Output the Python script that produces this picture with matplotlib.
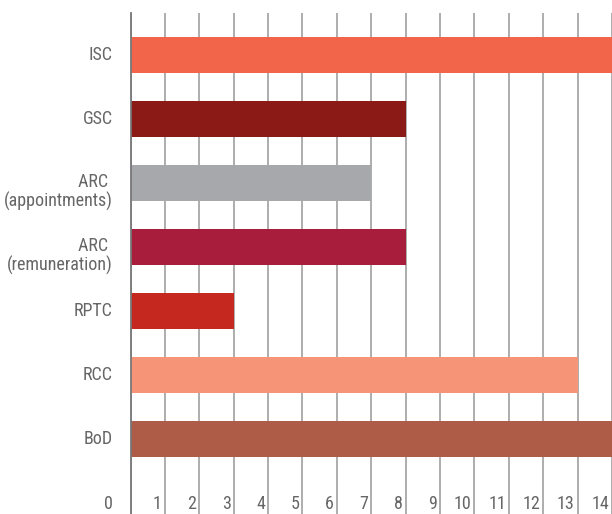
import matplotlib
matplotlib.use("Agg")
import matplotlib.pyplot as plt
from matplotlib import font_manager

# Committee meeting counts
committees = ["ISC", "GSC", "ARC \n(appointments)", "ARC \n(remuneration)", "RPTC", "RCC", "BoD"]
meetings = [14, 8, 7, 8, 3, 13, 14]
colors = ["#F2654A", "#8B1A17", "#A7A8AB", "#A81C3C", "#C4281F", "#F69478", "#AE5B48"]
x_ticks = list(range(15))

# pick a condensed face close to the original's narrow grotesque
names = {f.name for f in font_manager.fontManager.ttflist}
family = "DejaVu Sans"
for cand in ["Roboto Condensed", "Liberation Sans Narrow", "Archivo Narrow", "Barlow Semi Condensed"]:
    if cand in names:
        family = cand
        break
plt.rcParams["font.family"] = [family, "DejaVu Sans"]

text_color = "#666666"
fsize = 13

fig = plt.figure(figsize=(6.12, 5.14), dpi=100)
ax = fig.add_axes([130.5 / 612, 0.0, 1 - 130.5 / 612, (514 - 13) / 514])

ypos = list(range(len(committees)))
ax.barh(ypos, meetings, height=0.55, color=colors, zorder=2)

ax.set_xlim(0, 14)
ax.set_ylim(7.17, -0.656)

ax.set_xticks(x_ticks)
ax.set_xticklabels([])
ax.set_yticks([])
ax.tick_params(axis="x", length=0)
ax.grid(axis="x", color="#a0a0a0", linewidth=1.2, zorder=0)
ax.set_axisbelow(True)

for side in ["top", "right", "bottom"]:
    ax.spines[side].set_visible(False)
ax.spines["left"].set_color("#777777")
ax.spines["left"].set_linewidth(1.3)
ax.spines["left"].set_zorder(3)

# category names, right-aligned left of the axis; two-line ones sit a bit lower
for y, name in zip(ypos, committees):
    dy = -9 if "\n" in name else 0
    ax.annotate(name, xy=(0, y), xycoords=("axes fraction", "data"),
                xytext=(-18, dy), textcoords="offset pixels",
                ha="right", va="center", multialignment="right",
                color=text_color, fontsize=fsize, linespacing=1.0,
                annotation_clip=False)

# tick numbers sit just left of each gridline, near the bottom edge
for v in x_ticks:
    off = -18 if v == 0 else -3
    ax.annotate(str(v), xy=(v, 0), xycoords=("data", "axes fraction"),
                xytext=(off, 10), textcoords="offset pixels",
                ha="right", va="center", color=text_color, fontsize=fsize,
                annotation_clip=False)

fig.savefig("out.png", dpi=100)
